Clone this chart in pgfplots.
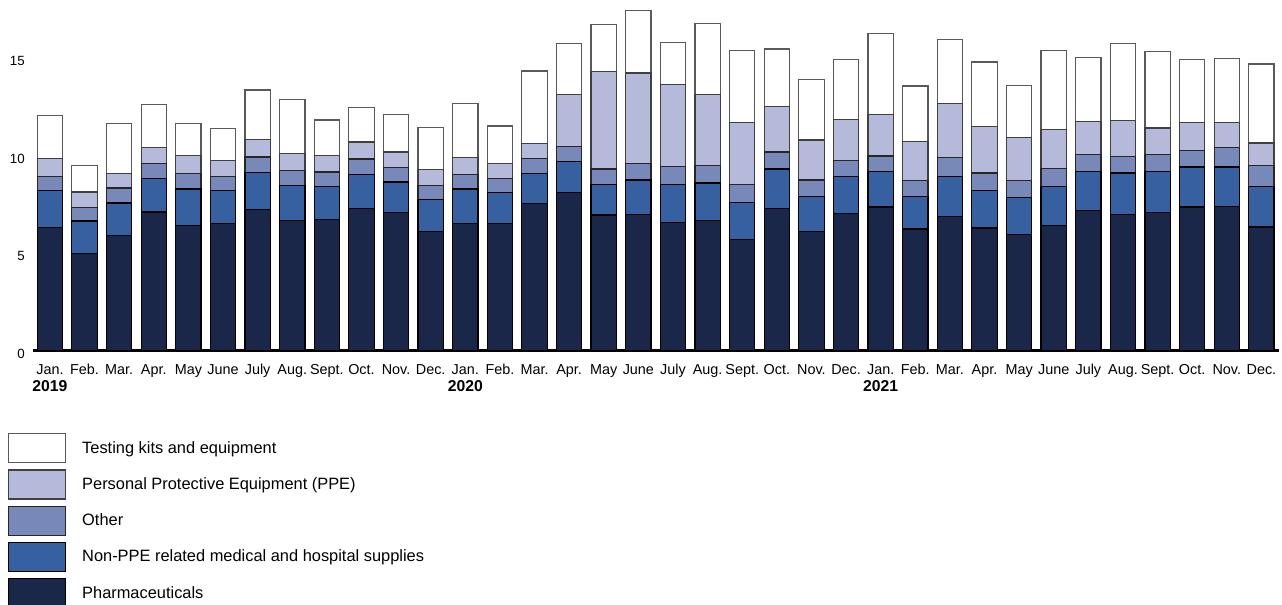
\documentclass[border=0pt]{standalone}
\usepackage{fontspec}
\setmainfont{Liberation Sans}
\usepackage{pgfplots}
\usepackage{pgfplotstable}
\pgfplotsset{compat=1.18}
\definecolor{cP}{HTML}{1A2749}
\definecolor{cN}{HTML}{36609F}
\definecolor{cO}{HTML}{7888B9}
\definecolor{cE}{HTML}{B6BADA}
\pgfplotsset{mybox/.style={legend image code/.code={\draw[##1, line width=0.9pt] (0pt,-10.875pt) rectangle (42.75pt,10.875pt);}}}

\pgfplotstableread{
x P N O E T
0 6.30 1.91 0.70 0.93 2.19
1 4.98 1.66 0.68 0.81 1.37
2 5.89 1.67 0.77 0.76 2.56
3 7.10 1.71 0.79 0.82 2.21
4 6.42 1.86 0.81 0.90 1.66
5 6.49 1.70 0.74 0.82 1.62
6 7.21 1.91 0.80 0.89 2.55
7 6.66 1.79 0.77 0.87 2.79
8 6.73 1.69 0.73 0.86 1.81
9 7.26 1.78 0.78 0.87 1.76
10 7.07 1.57 0.75 0.79 1.93
11 6.09 1.64 0.74 0.80 2.16
12 6.49 1.79 0.76 0.87 2.75
13 6.52 1.56 0.73 0.77 1.93
14 7.53 1.56 0.77 0.77 3.70
15 8.09 1.59 0.79 2.65 2.63
16 6.95 1.57 0.79 5.01 2.39
17 6.98 1.76 0.86 4.63 3.22
18 6.57 1.92 0.94 4.22 2.13
19 6.66 1.93 0.89 3.64 3.64
20 5.68 1.92 0.89 3.21 3.69
21 7.27 2.04 0.87 2.31 2.97
22 6.08 1.83 0.83 2.05 3.12
23 7.02 1.89 0.84 2.11 3.05
24 7.36 1.83 0.78 2.14 4.14
25 6.23 1.68 0.80 2.00 2.85
26 6.86 2.07 0.96 2.77 3.30
27 6.28 1.93 0.89 2.38 3.31
28 5.96 1.90 0.85 2.22 2.67
29 6.40 2.02 0.90 2.02 4.03
30 7.17 2.00 0.87 1.69 3.31
31 6.96 2.14 0.86 1.85 3.94
32 7.09 2.08 0.89 1.35 3.90
33 7.36 2.05 0.86 1.41 3.22
34 7.39 2.02 1.01 1.28 3.26
35 6.33 2.07 1.10 1.14 4.05
}\data

\begin{document}
\begin{tikzpicture}
\begin{axis}[name=ax, scale only axis, width=934.3pt, height=261.8pt,
  xmin=-0.48, xmax=35.51, ymin=0, ymax=17.9,
  ybar stacked, bar width=19pt,
  every axis plot post/.append style={mybox},
  axis x line*=bottom, axis y line*=left,
  x axis line style={line width=2.25pt, -}, y axis line style={draw=none},
  major tick length=0pt,
  xtick={0,...,35},
  xticklabels={Jan.,Feb.,Mar.,Apr.,May,June,July,Aug.,Sept.,Oct.,Nov.,Dec.,
               Jan.,Feb.,Mar.,Apr.,May,June,July,Aug.,Sept.,Oct.,Nov.,Dec.,
               Jan.,Feb.,Mar.,Apr.,May,June,July,Aug.,Sept.,Oct.,Nov.,Dec.},
  ytick={0,5,10,15},
  xticklabel style={font=\fontsize{10.8}{13}\selectfont, anchor=base, inner sep=0pt, yshift=-18pt},
  yticklabel style={font=\fontsize{10}{12}\selectfont, anchor=east, inner sep=0pt, xshift=-6.2pt, yshift=-2.6pt},
  /pgf/number format/assume math mode=true,
  clip=false,
  reverse legend,
  legend cell align=left,
  legend style={at={(axis description cs:0,0)}, anchor=north west, xshift=-19pt, yshift=-62.1pt,
    draw=none, fill=none, inner sep=0pt, outer sep=0pt, row sep=4.5pt,
    font=\fontsize{12.3}{14}\selectfont, nodes={inner sep=0pt},
    /tikz/every odd column/.append style={column sep=12pt}},
]
\addplot[fill=cP, draw=black, line width=0.9pt] table[x=x,y=P]{\data};
\addplot[fill=cN, draw=black, line width=0.9pt] table[x=x,y=N]{\data};
\addplot[fill=cO, draw=black!85, line width=0.9pt] table[x=x,y=O]{\data};
\addplot[fill=cE, draw=black!75, line width=0.9pt] table[x=x,y=E]{\data};
\addplot[fill=white, draw=black!65, line width=0.9pt] table[x=x,y=T]{\data};
\legend{Pharmaceuticals,Non-PPE related medical and hospital supplies,Other,Personal Protective Equipment (PPE),Testing kits and equipment}
\node[anchor=base, yshift=-31.1pt, font=\fontsize{11.8}{14}\selectfont\bfseries] at (axis cs:0,0) {2019};
\node[anchor=base, yshift=-31.1pt, font=\fontsize{11.8}{14}\selectfont\bfseries] at (axis cs:12,0) {2020};
\node[anchor=base, yshift=-31.1pt, font=\fontsize{11.8}{14}\selectfont\bfseries] at (axis cs:24,0) {2021};
\end{axis}
\pgfresetboundingbox
\path[use as bounding box] (ax.south west) ++(-25pt,-190.9pt) rectangle ++(961.5pt,453.75pt);
\end{tikzpicture}
\end{document}
